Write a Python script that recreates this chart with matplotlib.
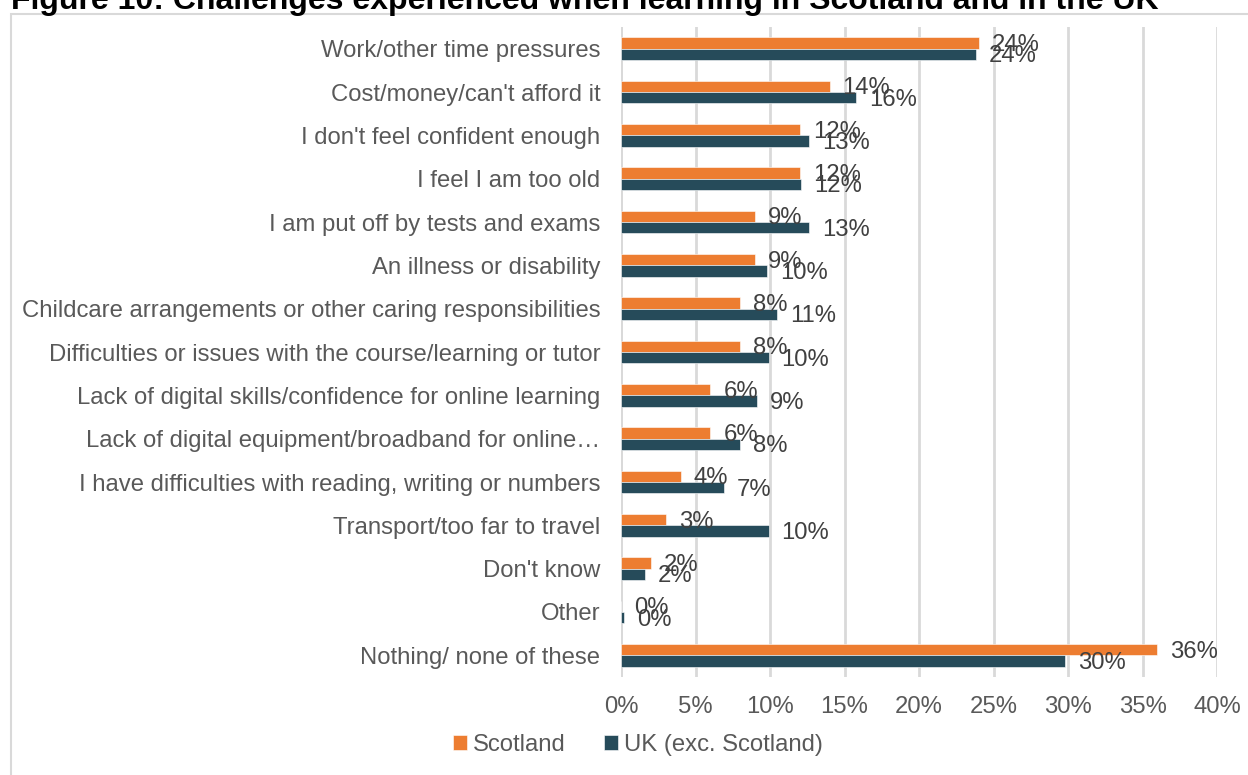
import numpy as np
import matplotlib.pyplot as plt
from matplotlib.patches import Rectangle
from matplotlib.ticker import FuncFormatter

categories = [
    "Work/other time pressures",
    "Cost/money/can't afford it",
    "I don't feel confident enough",
    "I feel I am too old",
    "I am put off by tests and exams",
    "An illness or disability",
    "Childcare arrangements or other caring responsibilities",
    "Difficulties or issues with the course/learning or tutor",
    "Lack of digital skills/confidence for online learning",
    "Lack of digital equipment/broadband for online\u2026",
    "I have difficulties with reading, writing or numbers",
    "Transport/too far to travel",
    "Don't know",
    "Other",
    "Nothing/ none of these",
]
scotland = [24.0, 14.0, 12.0, 12.0, 9.0, 9.0, 8.0, 8.0, 6.0, 6.0, 4.0, 3.0, 2.0, 0.0, 36.0]
uk_exc = [23.8, 15.8, 12.6, 12.1, 12.6, 9.8, 10.5, 9.9, 9.1, 8.0, 6.9, 9.9, 1.6, 0.2, 29.8]
scot_labels = ["24%", "14%", "12%", "12%", "9%", "9%", "8%", "8%", "6%", "6%", "4%", "3%", "2%", "0%", "36%"]
uk_labels = ["24%", "16%", "13%", "12%", "13%", "10%", "11%", "10%", "9%", "8%", "7%", "10%", "2%", "0%", "30%"]

orange = "#ED7D31"
navy = "#264B5A"
grey_text = "#595959"
label_text = "#404040"
fs = 17.2

plt.rcParams['font.family'] = ['Liberation Sans', 'DejaVu Sans']

fig = plt.figure(figsize=(12.48, 7.75), dpi=100)
ax = fig.add_axes([621 / 1248, 1 - 677 / 775, (1217 - 621) / 1248, 650 / 775])

# outer frame of the chart area
fig.patches.append(Rectangle((11 / 1248, -0.01), 1.1, 1 - 14 / 775 + 0.01,
                             transform=fig.transFigure, fill=False,
                             edgecolor="#d9d9d9", linewidth=1.5))

fig.text(11 / 1248, 1 - 9 / 775, "Figure 10: Challenges experienced when learning in Scotland and in the UK",
         fontsize=23, fontweight="bold", color="black", ha="left", va="baseline")

y = np.arange(len(categories))
h = 0.26
ax.barh(y - h / 2, scotland, height=h, color=orange, edgecolor="white", linewidth=0.4, label="Scotland", zorder=3)
ax.barh(y + h / 2, uk_exc, height=h, color=navy, edgecolor="white", linewidth=0.4, label="UK (exc. Scotland)", zorder=3)

for i in range(len(categories)):
    ax.annotate(scot_labels[i], (scotland[i], y[i] - h / 2), xytext=(13, -2),
                textcoords="offset pixels", ha="left", va="center",
                fontsize=fs, color=label_text, zorder=4)
    ax.annotate(uk_labels[i], (uk_exc[i], y[i] + h / 2), xytext=(13, -2),
                textcoords="offset pixels", ha="left", va="center",
                fontsize=fs, color=label_text, zorder=4)

ax.set_xlim(0, 40)
ax.set_ylim(len(categories) - 0.5, -0.5)
ax.set_xticks(np.arange(0, 41, 5))
ax.xaxis.set_major_formatter(FuncFormatter(lambda v, p: f"{v:.0f}%"))
ax.set_yticks(y)
ax.set_yticklabels(categories)
ax.tick_params(axis="both", length=0, labelsize=fs, labelcolor=grey_text)
ax.tick_params(axis="y", pad=15)
ax.tick_params(axis="x", pad=14)
ax.grid(axis="x", color="#d9d9d9", linewidth=2, zorder=0)
ax.axvline(0, color="#d9d9d9", linewidth=2, zorder=1)
for s in ax.spines.values():
    s.set_visible(False)

ax.legend(loc="center", bbox_to_anchor=(638 / 1248, 1 - 745 / 775),
          bbox_transform=fig.transFigure, ncol=2, frameon=False,
          fontsize=fs, labelcolor=grey_text, handlelength=0.6,
          handleheight=0.6, handletextpad=0.25, columnspacing=1.6)

fig.savefig("out.png", dpi=100)
